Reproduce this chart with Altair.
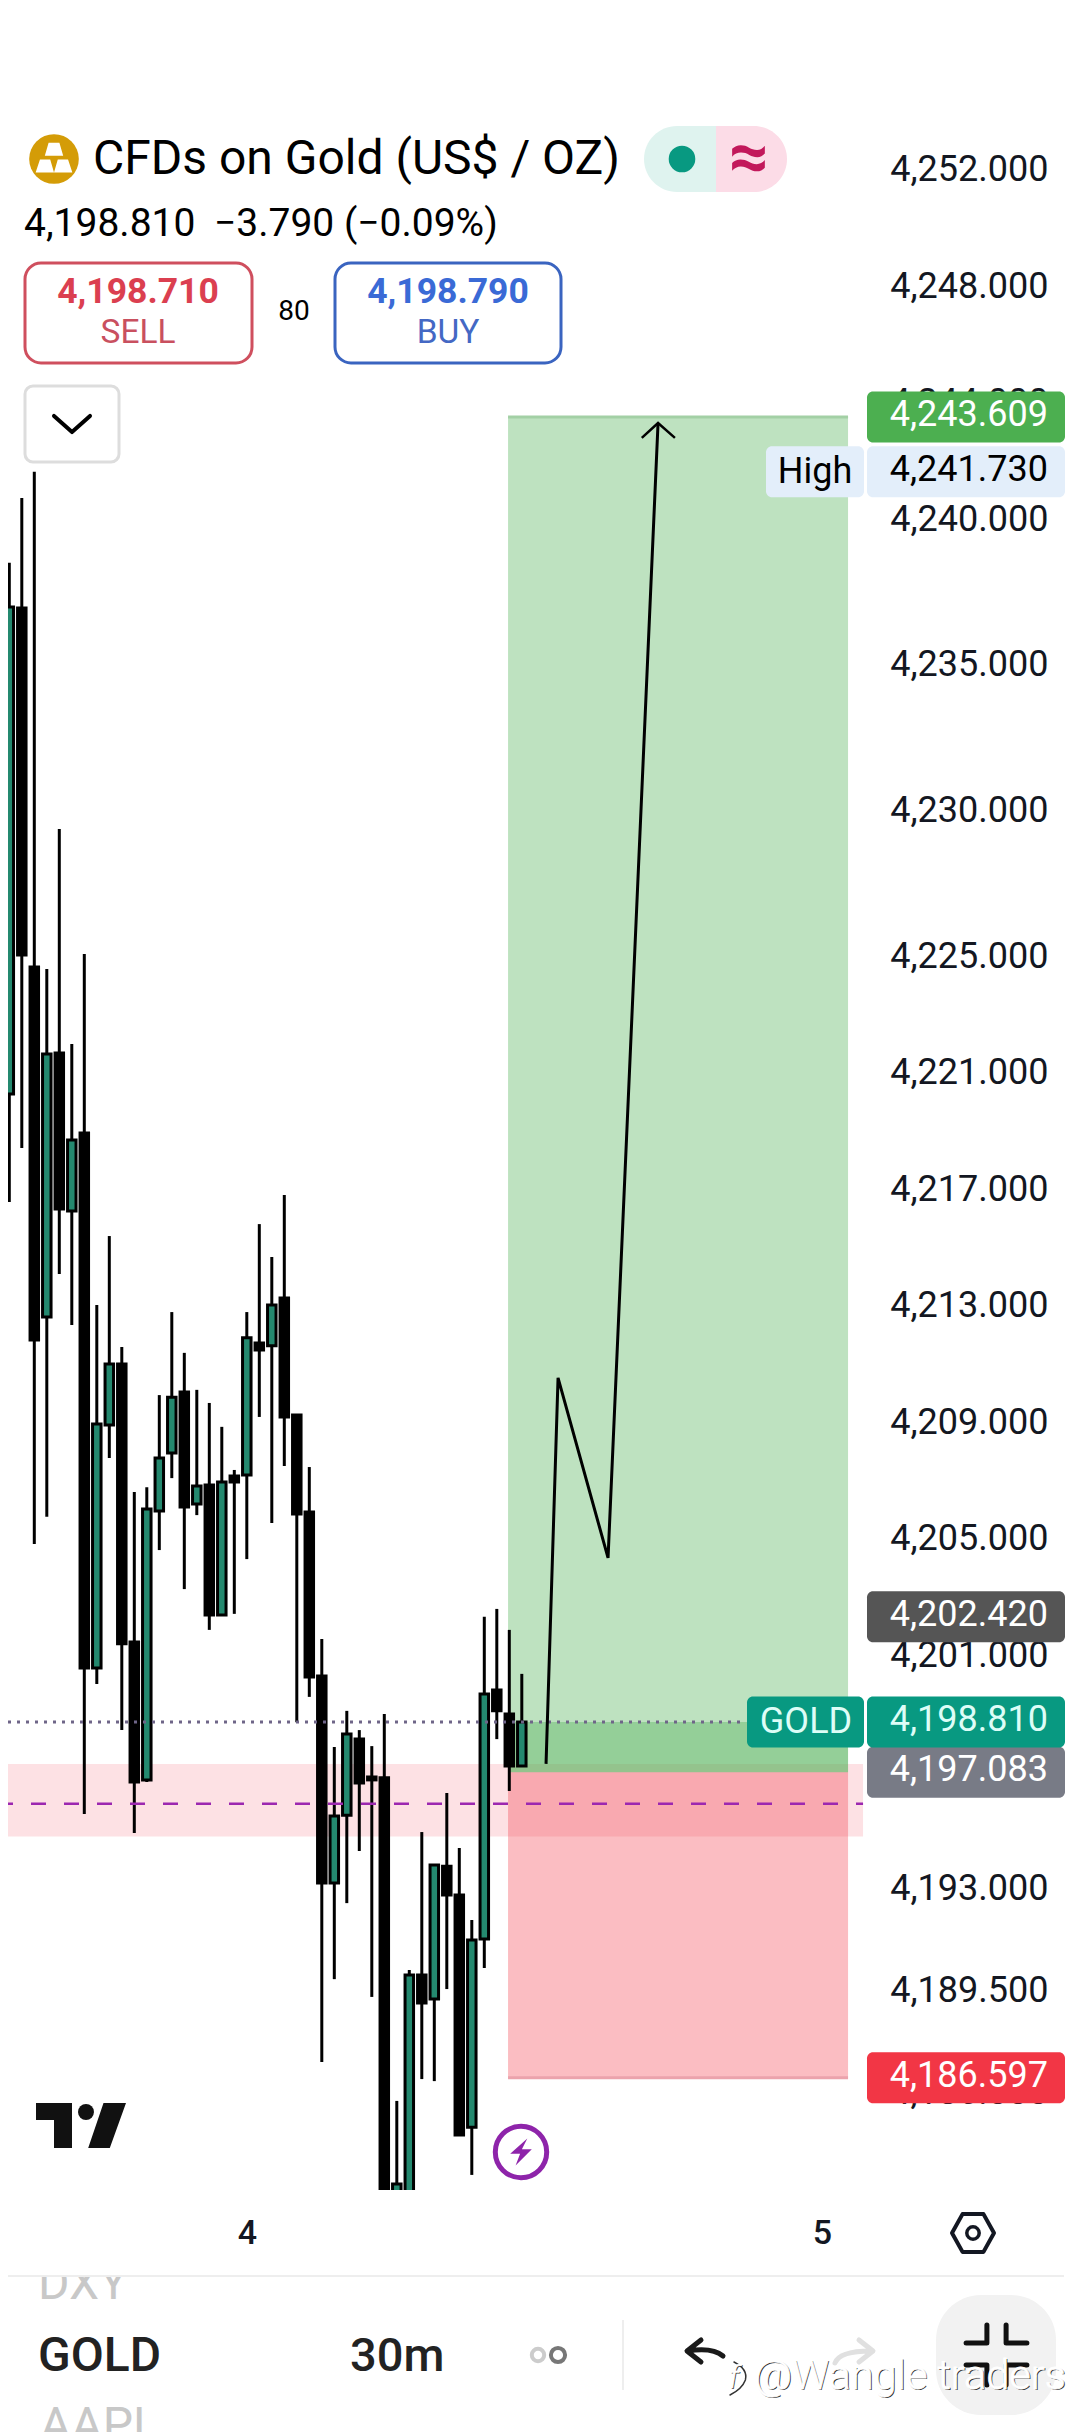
import altair as alt
import pandas as pd

# ---- candle values ----
opens  = [4220.37,4237.05,4224.73,4212.71,4221.77,4216.35,4219.03,4200.66,4209.00,4211.10,4201.55,4196.82,4206.05,4208.04,4210.14,4206.29,4206.94,4202.48,4207.25,4207.29,4211.82,4211.72,4213.36,4209.35,4206.02,4200.39,4193.28,4195.61,4198.22,4196.92,4196.89,4181.90,4181.60,4190.12,4189.30,4193.86,4192.87,4184.90,4191.36,4199.91,4199.08,4197.30]
highs  = [4238.60,4240.83,4241.73,4224.66,4229.46,4222.08,4225.17,4213.12,4215.49,4211.68,4206.70,4206.87,4210.03,4212.88,4211.48,4210.21,4209.76,4208.94,4207.46,4212.88,4215.90,4214.77,4216.90,4209.35,4207.56,4201.66,4197.95,4199.19,4198.53,4197.98,4199.08,4185.80,4190.29,4195.03,4193.93,4196.37,4194.48,4192.01,4202.42,4202.69,4201.97,4200.46]
lows   = [4216.66,4218.51,4204.92,4205.85,4214.19,4212.44,4195.65,4200.11,4207.87,4198.53,4195.00,4196.75,4204.71,4207.18,4203.37,4205.91,4201.97,4202.48,4202.52,4204.40,4209.28,4205.64,4207.60,4198.80,4199.67,4187.14,4189.98,4192.59,4194.38,4189.37,4180.80,4181.50,4181.20,4186.55,4186.48,4189.64,4184.63,4183.26,4190.36,4198.22,4196.44,4197.30]
closes = [4237.08,4225.14,4211.92,4221.74,4216.42,4218.79,4200.66,4209.04,4211.10,4201.49,4196.75,4206.12,4207.87,4209.96,4206.19,4206.91,4202.48,4207.05,4207.05,4212.00,4211.58,4213.12,4209.28,4205.95,4200.35,4193.28,4195.58,4198.40,4196.71,4196.82,4181.50,4182.95,4190.12,4189.16,4193.90,4192.87,4184.63,4191.32,4199.77,4199.19,4197.30,4198.81]

price_ticks = [4252,4248,4244,4240,4235,4230,4225,4221,4217,4213,4209,4205,4201,4197,4193,4189.5,4186]
day_ticks = [19, 65]
day_labels = ["4", "5"]

target_price, entry_price, current_price, stop_price = 4243.609, 4197.083, 4198.810, 4186.597
high_price, alert_price = 4241.730, 4202.420
zone_low, zone_high, zone_mid = 4194.878, 4197.365, 4196.00
box_start, box_end = 39.9, 67.1
path_i = [42.94, 43.90, 47.90, 51.90]
path_p = [4197.37, 4210.62, 4204.44, 4243.40]
head_i = [50.6, 51.90, 53.25]
head_p = [4242.89, 4243.40, 4242.89]

X0, X1 = -0.104, 68.696
Y_TOP, Y_BOT = 4257.647, 4182.742
W, H = 860, 2182
FONT = "Roboto"
TEAL = "#24896F"

xs = alt.Scale(domain=[X0, X1], nice=False, zero=False, padding=0)
ys = alt.Scale(domain=[Y_BOT, Y_TOP], nice=False, zero=False, padding=0)
AX = alt.Axis(values=day_ticks, labelExpr="datum.value==19?'4':'5'", title=None,
              grid=False, domain=False, ticks=False, labelFont=FONT, labelFontSize=34, labelFontWeight=500,
              labelColor="#131722", labelPadding=43, labelBaseline="middle", labelFlush=False, labelOverlap=False)
AY = alt.Axis(orient="right", values=price_ticks, format=",.3f", title=None,
              grid=False, domain=False, ticks=False, labelFont=FONT, labelFontSize=36, labelColor="#131722",
              labelPadding=180, labelAlign="right", labelBaseline="middle", labelOffset=-3, labelOverlap=False,
              labelFlush=False, labelBound=False)
def X(f="i"):  return alt.X(f"{f}:Q", scale=xs, axis=AX)
def Y(f="p"):  return alt.Y(f"{f}:Q", scale=ys, axis=AY)

one = alt.Data(values=[{"a": 0}])

def rect(x0, y0, x1, y1, fill, **kw):
    return alt.Chart(one).mark_rect(fill=fill, **kw).encode(
        x=alt.value(x0 - 8), x2=alt.value(x1 - 8), y=alt.value(y0 - 8), y2=alt.value(y1 - 8))

def text(s, x, y, size, color="#000000", weight=400, align="center", **kw):
    return alt.Chart(one).mark_text(font=FONT, fontSize=size, color=color, fontWeight=weight,
                                    align=align, baseline="middle", **kw).encode(
        x=alt.value(x - 8), y=alt.value(y - 8), text=alt.value(s))

def shape(path, cx, cy, s, fill=None, stroke=None, sw=0):
    kw = dict(shape=path, size=s * s, opacity=1)
    if fill:
        kw.update(filled=True, fill=fill, strokeWidth=0)
    else:
        kw.update(filled=False, stroke=stroke, strokeWidth=sw, strokeCap="round", strokeJoin="round")
    return alt.Chart(one).mark_point(**kw).encode(x=alt.value(cx - 8), y=alt.value(cy - 8))

def ring(cx, cy, r, fill=None, stroke=None, sw=0):
    style = {"fill": fill, "strokeWidth": 0} if fill else {"stroke": stroke, "strokeWidth": sw}
    return alt.Chart(one).mark_point(shape="circle", size=3.14159 * r * r, opacity=1,
                                     filled=bool(fill), **style).encode(x=alt.value(cx - 8), y=alt.value(cy - 8))

candles = pd.DataFrame({"i": range(len(opens)), "o": opens, "h": highs, "l": lows, "c": closes})
candles["fill"] = [TEAL if c > o else "#000000" for o, c in zip(opens, closes)]

band = alt.Chart(pd.DataFrame({"a": [X0], "b": [68.3], "lo": [zone_low], "hi": [zone_high]})).mark_rect(fill="#FDE1E4").encode(
    x=X("a"), x2="b:Q", y=Y("lo"), y2="hi:Q")

def box(lo, hi, color, op):
    return alt.Chart(pd.DataFrame({"a": [box_start], "b": [box_end], "lo": [lo], "hi": [hi]})).mark_rect(fill=color, opacity=op).encode(
        x=X("a"), x2="b:Q", y=Y("lo"), y2="hi:Q")

def edge(p, color):
    return alt.Chart(pd.DataFrame({"a": [box_start], "b": [box_end], "p": [p]})).mark_rule(color=color, strokeWidth=3).encode(
        x=X("a"), x2="b:Q", y=Y("p"))

wicks = alt.Chart(candles).mark_rule(color="#000000", strokeWidth=3, clip=True).encode(x=X("i"), y=Y("l"), y2="h:Q")
bodies = alt.Chart(candles).mark_bar(size=8.5, stroke="#000000", strokeWidth=3, clip=True, orient="vertical").encode(
    x=X("i"), y=Y("o"), y2="c:Q", fill=alt.Fill("fill:N", scale=None))

dash = alt.Chart(pd.DataFrame({"a": [X0], "b": [68.3], "p": [zone_mid]})).mark_rule(
    color="#9C27B0", strokeWidth=2.5, strokeDash=[15, 18], strokeDashOffset=10).encode(x=X("a"), x2="b:Q", y=Y("p"))
dots = alt.Chart(pd.DataFrame({"a": [X0], "b": [58.9], "p": [current_price]})).mark_rule(
    color="#6E6588", strokeWidth=3, strokeDash=[3, 6]).encode(x=X("a"), x2="b:Q", y=Y("p"))

path_df = pd.DataFrame({"i": path_i, "p": path_p, "n": range(4)})
head_df = pd.DataFrame({"i": head_i, "p": head_p, "n": range(3)})
path = alt.Chart(path_df).mark_line(color="#000000", strokeWidth=3, strokeJoin="miter").encode(x=X("i"), y=Y("p"), order="n:Q")
head = alt.Chart(head_df).mark_line(color="#000000", strokeWidth=2.5).encode(x=X("i"), y=Y("p"), order="n:Q")

BX0, BX1 = 867, 1065
def badge(p, s, fill, color="#FFFFFF", x0=BX0, x1=BX1):
    d = pd.DataFrame({"lo": [p - 0.875], "hi": [p + 0.875], "p": [p], "s": [s]})
    r = alt.Chart(d).mark_rect(fill=fill, cornerRadius=6).encode(
        x=alt.value(x0 - 8), x2=alt.value(x1 - 8), y=Y("lo"), y2="hi:Q")
    t = alt.Chart(d).mark_text(font=FONT, fontSize=36, color=color, align="right", baseline="middle", dy=-2).encode(
        x=alt.value(1048 - 8), y=Y("p"), text="s:N")
    return [r, t]

def side(p, s, fill, color, x0, x1, cx):
    d = pd.DataFrame({"lo": [p - 0.875], "hi": [p + 0.875], "p": [p], "s": [s]})
    r = alt.Chart(d).mark_rect(fill=fill, cornerRadius=6).encode(
        x=alt.value(x0 - 8), x2=alt.value(x1 - 8), y=Y("lo"), y2="hi:Q")
    t = alt.Chart(d).mark_text(font=FONT, fontSize=36, color=color, align="center", baseline="middle").encode(
        x=alt.value(cx - 8), y=Y("p"), text="s:N")
    return [r, t]

layers = [
    band,
    box(entry_price, target_price, "#4CAF50", 0.36),
    box(entry_price, current_price, "#4CAF50", 0.36),
    box(stop_price, entry_price, "#F23645", 0.33),
    edge(target_price, "#A3D0A5"),
    edge(stop_price, "#EBA3AC"),
    wicks, bodies, dash, dots, path, head,
    # header
    ring(54, 159, 28, fill="#D49C07"),
    shape("M-.2 -.6L.2 -.6L.34 -.12L-.34 -.12ZM-.52 .02L-.14 .02L0 .5L-.68 .5ZM.14 .02L.52 .02L.68 .5L0 .5Z", 54, 159, 54, fill="#FFFFFF"),
    text("CFDs on Gold (US$ / OZ)", 93, 160, 48, align="left"),
    rect(644, 126, 716, 192, "#DFF3EF", cornerRadiusTopLeft=33, cornerRadiusBottomLeft=33),
    rect(716, 126, 787, 192, "#FCDCE7", cornerRadiusTopRight=33, cornerRadiusBottomRight=33),
    ring(682, 159, 15, fill="#089981"),
    text("≈", 749, 159, 70, "#C2185B", 700),
    text("4,198.810", 24, 224, 39, align="left"),
    text("−3.790 (−0.09%)", 214, 224, 39, align="left"),
    rect(25, 263, 252, 363, "#FFFFFF", stroke="#CF4F5E", strokeWidth=3, cornerRadius=16),
    text("4,198.710", 138, 292, 35.5, "#DB3F50", 700),
    text("SELL", 138, 333, 33.5, "#C9505F"),
    text("80", 294, 312, 28),
    rect(335, 263, 561, 363, "#FFFFFF", stroke="#3A64C0", strokeWidth=3, cornerRadius=16),
    text("4,198.790", 448, 292, 35.5, "#3A6AD6", 700),
    text("BUY", 448, 333, 33.5, "#4468C4"),
    rect(25, 386, 119, 462, "#FFFFFF", stroke="#DDDDDD", strokeWidth=3, cornerRadius=8),
    shape("M-1 -.45L0 .45L1 -.45", 72, 424, 36, stroke="#000000", sw=4),
    # price badges
    *badge(target_price, "4,243.609", "#4CAF50"),
    *side(high_price, "High", "#E3EEFA", "#000000", 766, 864, 815),
    *badge(high_price, "4,241.730", "#E3EEFA", "#000000"),
    *badge(alert_price, "4,202.420", "#555555"),
    *badge(entry_price, "4,197.083", "#787B86"),
    *side(current_price, "GOLD", "#089981", "#DDFDF7", 747, 864, 806),
    *badge(current_price, "4,198.810", "#089981", "#DDFDF7"),
    *badge(stop_price, "4,186.597", "#F23645"),
    # chart furniture
    shape("M-1 -.5L-.2 -.5L-.2 .5L-.6 .5L-.6 -.12L-1 -.12ZM.5 -.5L1 -.5L.64 .5L.16 .5Z", 81, 2125.5, 90, fill="#111111"),
    ring(86, 2112, 9, fill="#111111"),
    ring(521, 2152, 29, stroke="#8E24AA", sw=5),
    shape("M.35 -.75L-.6 .1L-.05 .1L-.3 .75L.6 -.15L.05 -.15Z", 521, 2152, 36, fill="#8E24AA"),
    shape("M-1 0L-.5 -.9L.5 -.9L1 0L.5 .9L-.5 .9Z", 973, 2233, 42, stroke="#131722", sw=4),
    ring(973, 2233, 7, stroke="#131722", sw=3.5),
    # toolbar
    text("DXY", 38, 2285, 48, "#C8C8C8", 400, align="left"),
    rect(0, 2230, 200, 2275, "#FFFFFF"),
    rect(0, 2275, 1064, 2277, "#EEEEEE"),
    text("GOLD", 38, 2357, 48, "#222222", 500, align="left"),
    text("30m", 350, 2357, 47, "#222222", 500, align="left"),
    ring(538, 2355, 7, stroke="#CCCCCC", sw=4),
    ring(558, 2355, 8, stroke="#777777", sw=4),
    rect(622, 2320, 624, 2390, "#EEEEEE"),
    shape("M.72 .16Q.3 -.2 -.7 -.04M-.16 -.48L-.72 -.04L-.16 .4", 705, 2352, 50, stroke="#1A1A1A", sw=5),
    shape("M-.68 .44Q-.5 -.05 .8 -.04M.28 -.48L.84 -.04L.28 .4", 852, 2352, 50, stroke="#E0E0E0", sw=5),
    rect(936, 2295, 1056, 2415, "#F2F2F2", cornerRadius=45),
    shape("M-.76 -.3L-.24 -.3L-.24 -.75M.24 -.75L.24 -.3L.76 -.3M-.76 .25L-.24 .25L-.24 .75M.24 .75L.24 .25L.76 .25", 996.5, 2355, 80, stroke="#111111", sw=5),
    text("AAPL", 40, 2427, 48, "#C8C8C8", 400, align="left"),
    # watermark
    shape("M.05 -.8Q.75 -.45 .62 .1Q.45 .55 -.15 .85", 733, 2378, 40, stroke="#333333", sw=1.5),
    text("f", 735, 2379, 32, "#333333", 300, fontStyle="italic"),
    text("f", 734, 2378, 32, "#FFFFFF", 300, fontStyle="italic", stroke="#FFFFFF", strokeWidth=0.6),
    text("@Wangle traders", 755.2, 2378, 41.5, "#333333", 300, align="left"),
    text("@Wangle traders", 754, 2377, 41.5, "#FFFFFF", 300, align="left", stroke="#FFFFFF", strokeWidth=0.8),
]

chart = alt.layer(*layers).properties(
    width=W, height=H,
    background="#FFFFFF",
    autosize=alt.AutoSizeParams(type="none"),
    padding={"left": 0, "top": 0, "right": 204, "bottom": 242},
).configure_view(strokeWidth=0)

chart.save("out.html", embed_options={"renderer": "svg", "actions": False})
